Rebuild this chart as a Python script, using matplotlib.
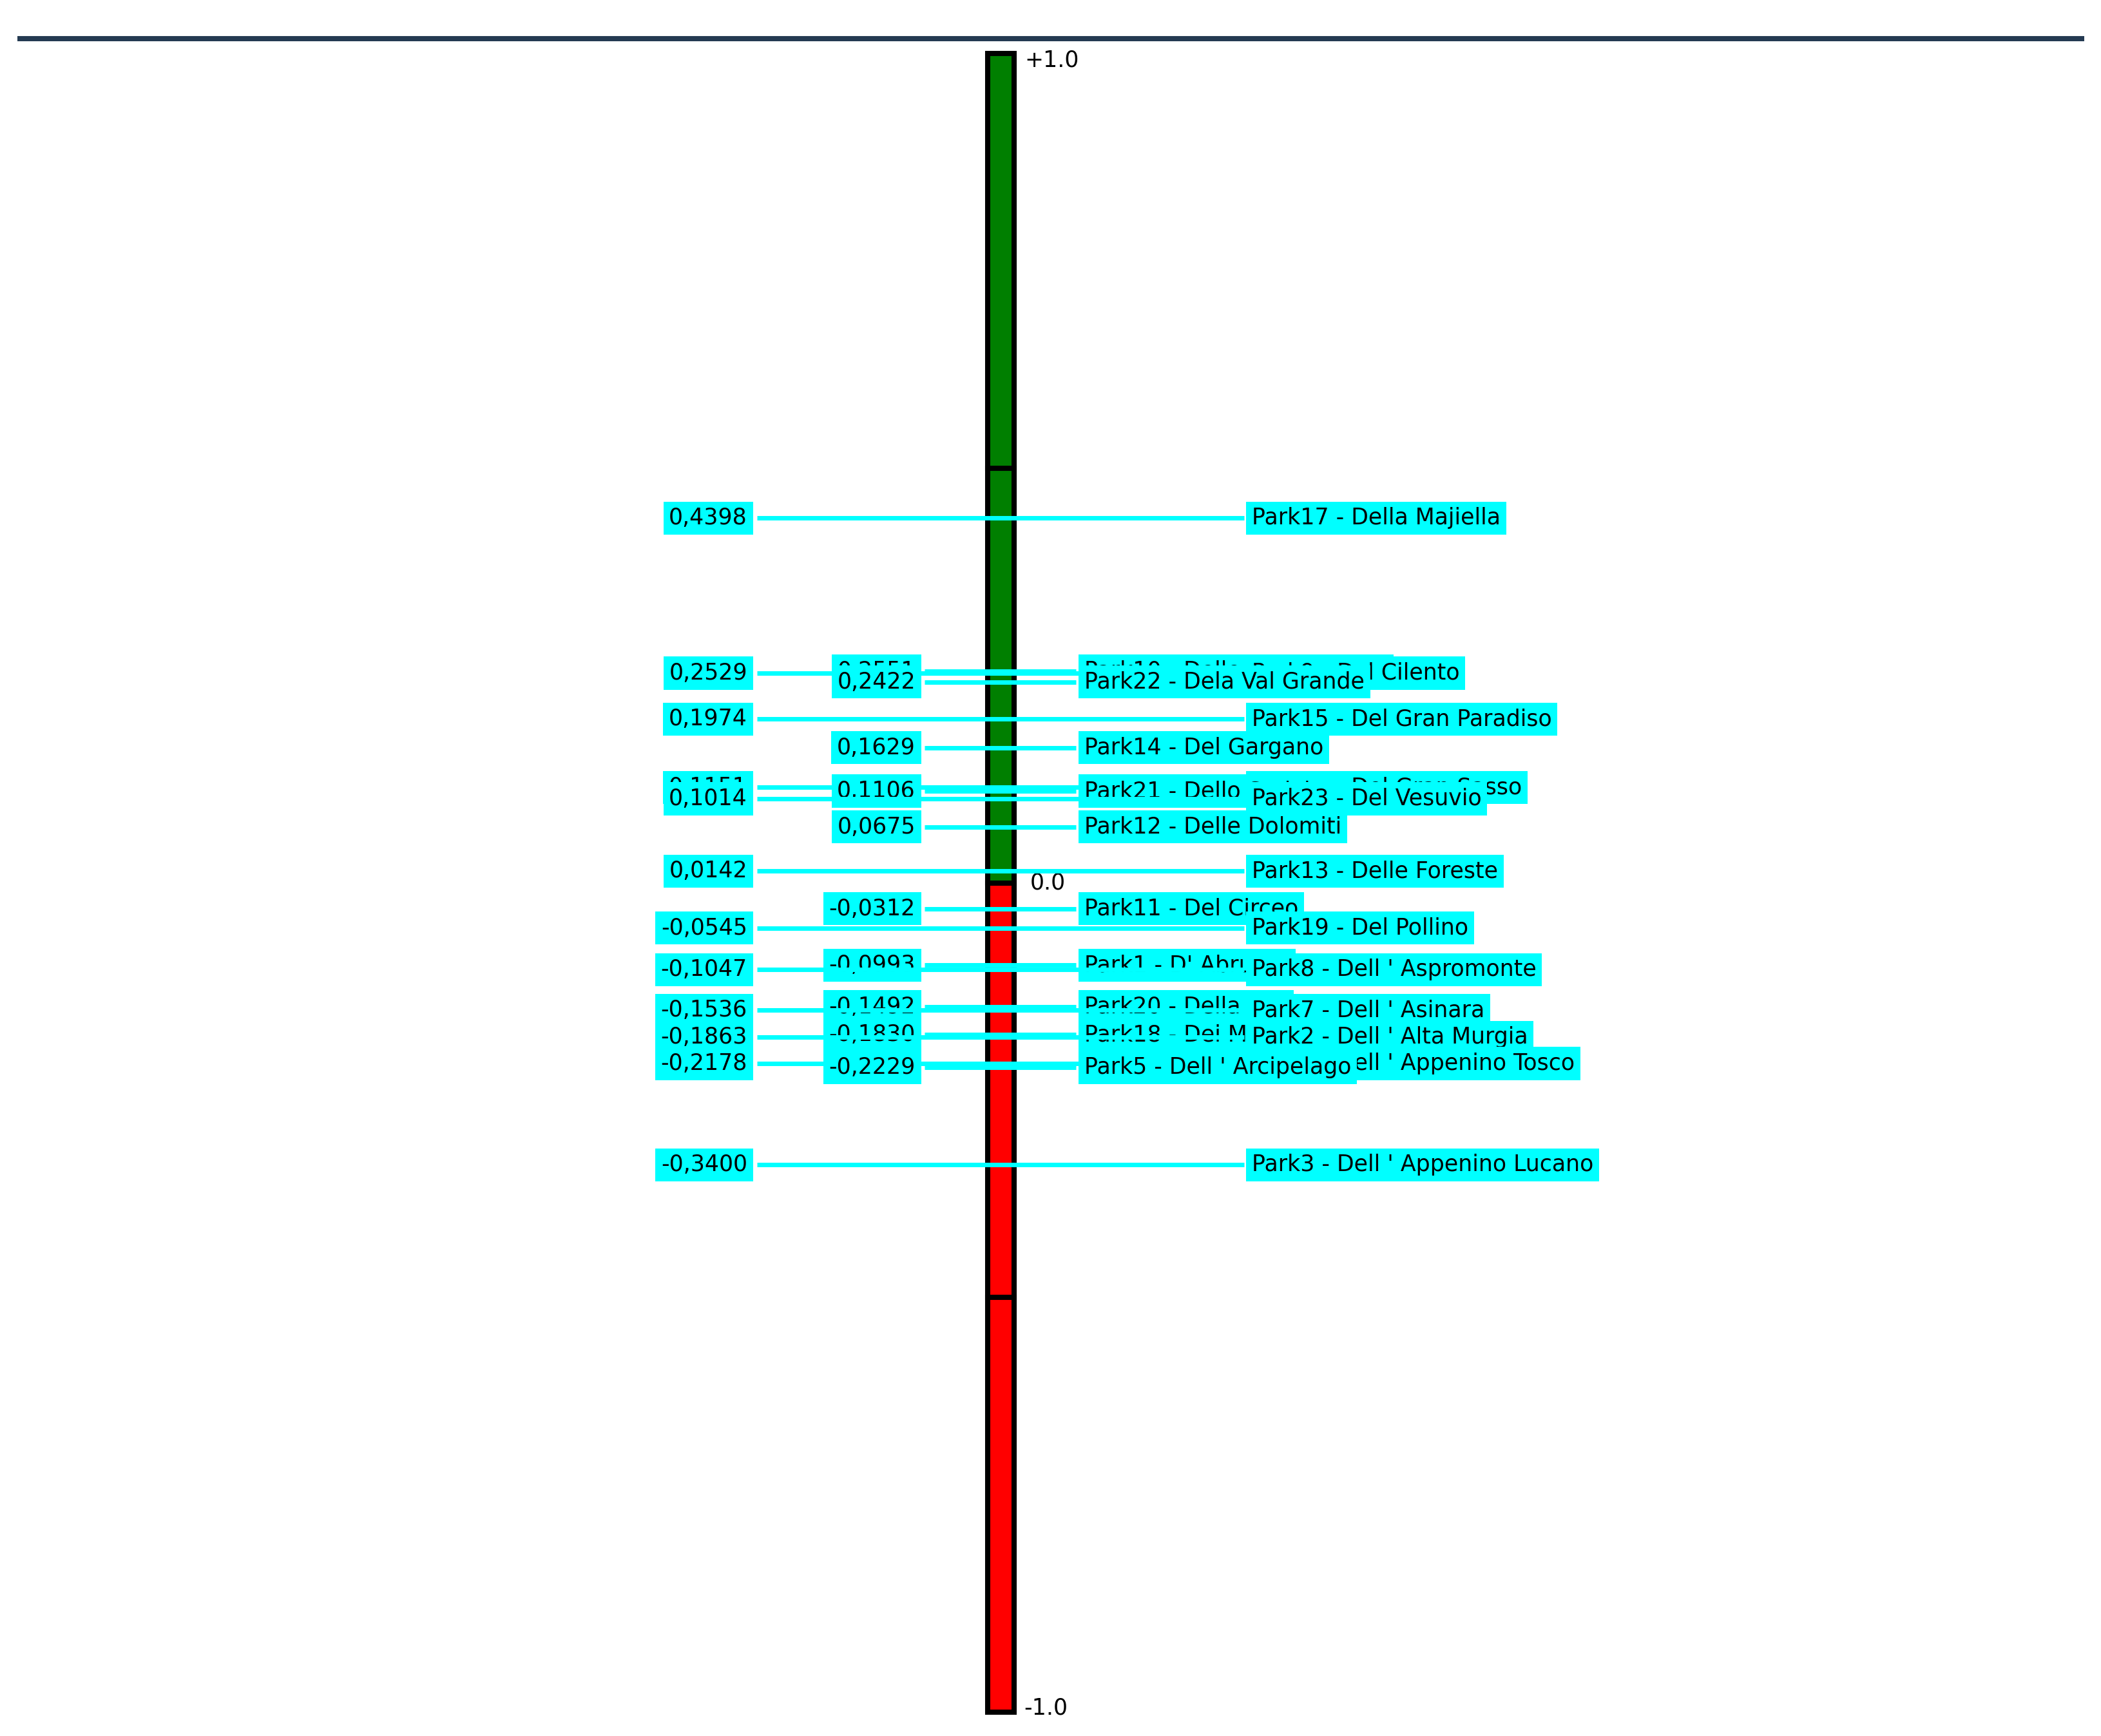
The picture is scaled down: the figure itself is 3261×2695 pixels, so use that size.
import matplotlib
matplotlib.use('Agg')
import matplotlib.pyplot as plt

# net flows, sorted from best to worst
parks = ['Park17 - Della Majiella', 'Park10 - Delle Cinque Terre', 'Park9 - Del Cilento',
         'Park22 - Dela Val Grande', 'Park15 - Del Gran Paradiso', 'Park14 - Del Gargano',
         'Park16 - Del Gran Sasso', 'Park21 - Dello Stelvio', 'Park23 - Del Vesuvio',
         'Park12 - Delle Dolomiti', 'Park13 - Delle Foreste', 'Park11 - Del Circeo',
         'Park19 - Del Pollino', "Park1 - D' Abruzzo", "Park8 - Dell ' Aspromonte",
         'Park20 - Della Sila', "Park7 - Dell ' Asinara", 'Park18 - Dei Monti Sibillini',
         "Park2 - Dell ' Alta Murgia", "Park4 - Dell ' Appenino Tosco", "Park5 - Dell ' Arcipelago",
         "Park3 - Dell ' Appenino Lucano"]
phi = [0.4398, 0.2551, 0.2529, 0.2422, 0.1974, 0.1629, 0.1151, 0.1106, 0.1014, 0.0675,
       0.0142, -0.0312, -0.0545, -0.0993, -0.1047, -0.1492, -0.1536, -0.1830, -0.1863,
       -0.2178, -0.2229, -0.3400]
# which label lane each park uses (outer / inner)
lane = ['L', 'M', 'L', 'M', 'L', 'M', 'L', 'M', 'L', 'M', 'L', 'M', 'L', 'M', 'L', 'M',
        'L', 'M', 'L', 'L', 'M', 'L']

seg_bottom = [0.5, 0.0, -0.5, -1.0]
seg_color = ['#007f00', '#007f00', '#ff0000', '#ff0000']

W, H = 3262, 2695
zero_px, unit_px = 1370.5, 1287.5

fig = plt.figure(figsize=(W / 100, H / 100), dpi=100)
ax = fig.add_axes([0, 0, 1, 1])
ax.set_xlim(0, W)
ax.set_ylim((zero_px - H) / unit_px, zero_px / unit_px)
ax.axis('off')

# header rule
ax.hlines((zero_px - 60) / unit_px, 27, 3235, color='#243a52', lw=5.8, zorder=1)

# the scale bar
ax.bar(1553.5, 0.5, bottom=seg_bottom, width=41, color=seg_color,
       edgecolor='black', linewidth=5.8, zorder=2)

tick_font = dict(fontsize=25, family='DejaVu Sans', color='black')
ax.text(1590, 1 - 10 / unit_px, '+1.0', ha='left', va='center', **tick_font)
ax.text(1599, 0, '0.0', ha='left', va='center', **tick_font)
ax.text(1589, -1 + 6 / unit_px, '-1.0', ha='left', va='center', **tick_font)

lanes = {
    'L': dict(val_x=1160, line=(1175, 1931), lab_x=1943),
    'M': dict(val_x=1421, line=(1435, 1670), lab_x=1683),
}
box = dict(boxstyle='square,pad=0.25', fc='#00ffff', ec='none')
cyan = '#00ffff'

for i, (name, v, ln) in enumerate(zip(parks, phi, lane)):
    z = 10 + i * 3
    cfg = lanes[ln]
    ax.hlines(v, cfg['line'][0], cfg['line'][1], color=cyan, lw=5, zorder=z)
    val = f'{v:.4f}'.replace('.', ',')
    ax.text(cfg['val_x'], v, val, ha='right', va='center', fontsize=25,
            family='DejaVu Sans', bbox=box, zorder=z + 1)
    ax.text(cfg['lab_x'], v, name, ha='left', va='center', fontsize=25,
            family='DejaVu Sans', bbox=box, zorder=z + 2)

fig.savefig('out.png', dpi=100, facecolor='white')
